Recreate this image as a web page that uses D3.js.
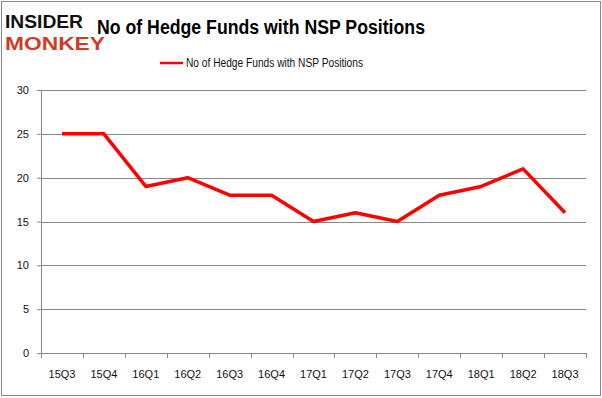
<!DOCTYPE html>
<html>
<head>
<meta charset="utf-8">
<script src="https://cdn.jsdelivr.net/npm/d3@7"></script>
<style>
  body { margin: 0; background: #fff; }
  svg { display: block; font-family: "Liberation Sans", Arial, sans-serif; }
</style>
</head>
<body>
<script>
// data
var quarters = ["15Q3", "15Q4", "16Q1", "16Q2", "16Q3", "16Q4", "17Q1", "17Q2", "17Q3", "17Q4", "18Q1", "18Q2", "18Q3"];
var funds = [25, 25, 19, 20, 18, 18, 15, 16, 15, 18, 19, 21, 16];
var yTicks = [0, 5, 10, 15, 20, 25, 30];
var seriesName = "No of Hedge Funds with NSP Positions";

var W = 602, H = 398;
var margin = { top: 90, right: 16, bottom: 45, left: 41 },
  width = W - margin.left - margin.right,
  height = H - margin.top - margin.bottom;

var svg = d3.select("body").append("svg")
  .attr("width", W)
  .attr("height", H);

// outer frame
svg.append("rect")
  .attr("x", 1.5).attr("y", 1.5)
  .attr("width", W - 3).attr("height", H - 4)
  .attr("fill", "#fff").attr("stroke", "#888").attr("stroke-width", 1);

// logo
svg.append("text")
  .attr("x", 5).attr("y", 28)
  .attr("font-size", 19).attr("font-weight", "bold")
  .attr("textLength", 78).attr("lengthAdjust", "spacingAndGlyphs")
  .attr("fill", "#111")
  .text("INSIDER");
svg.append("text")
  .attr("x", 5).attr("y", 50)
  .attr("font-size", 19).attr("font-weight", "bold")
  .attr("textLength", 100).attr("lengthAdjust", "spacingAndGlyphs")
  .attr("fill", "#d23a2a")
  .text("MONKEY");

// title
svg.append("text")
  .attr("x", 97).attr("y", 34)
  .attr("font-size", 20).attr("font-weight", "bold")
  .attr("textLength", 328).attr("lengthAdjust", "spacingAndGlyphs")
  .attr("fill", "#000")
  .text(seriesName);

// legend
svg.append("line")
  .attr("x1", 160).attr("x2", 183)
  .attr("y1", 63).attr("y2", 63)
  .attr("stroke", "red").attr("stroke-width", 2.5);
svg.append("text")
  .attr("x", 186).attr("y", 67)
  .attr("font-size", 12)
  .attr("textLength", 177).attr("lengthAdjust", "spacingAndGlyphs")
  .attr("fill", "#111")
  .text(seriesName);

var g = svg.append("g")
  .attr("transform", "translate(" + margin.left + "," + margin.top + ")");

// scales
var x = d3.scaleBand()
  .domain(quarters)
  .range([0, width]);
var y = d3.scaleLinear()
  .domain([0, 30])
  .range([height, 0]);

// gridlines
g.selectAll(".grid")
  .data(yTicks)
  .enter().append("line")
  .attr("class", "grid")
  .attr("x1", 0).attr("x2", width)
  .attr("y1", function (d) { return Math.round(y(d)) + 0.5; })
  .attr("y2", function (d) { return Math.round(y(d)) + 0.5; })
  .attr("stroke", "#888").attr("stroke-width", 1);

// y axis
var yAxis = g.append("g")
  .call(d3.axisLeft(y).tickValues(yTicks).tickSize(4).tickPadding(8));
yAxis.select(".domain").attr("stroke", "#888");
yAxis.selectAll(".tick line").attr("stroke", "#888");
yAxis.selectAll("text").attr("font-size", 11).attr("fill", "#111")
  .attr("font-family", "Liberation Sans, Arial, sans-serif");

// x axis, ticks on band boundaries
var xAxis = g.append("g")
  .attr("transform", "translate(0," + height + ")")
  .call(d3.axisBottom(x).tickSize(0).tickPadding(17));
xAxis.select(".domain").attr("stroke", "#888");
xAxis.selectAll("text").attr("font-size", 11).attr("fill", "#111")
  .attr("font-family", "Liberation Sans, Arial, sans-serif");
var bounds = quarters.map(function (q) { return x(q); }).concat([width]);
xAxis.selectAll(".bound")
  .data(bounds)
  .enter().append("line")
  .attr("class", "bound")
  .attr("x1", function (d) { return Math.round(d) + 0.5; })
  .attr("x2", function (d) { return Math.round(d) + 0.5; })
  .attr("y1", 0).attr("y2", 5)
  .attr("stroke", "#888");

// series line
var line = d3.line()
  .x(function (d, i) { return x(quarters[i]) + x.bandwidth() / 2; })
  .y(function (d) { return y(d); });

g.append("path")
  .datum(funds)
  .attr("fill", "none")
  .attr("stroke", "red")
  .attr("stroke-width", 3.5)
  .attr("stroke-linejoin", "round")
  .attr("d", line);
</script>
</body>
</html>
